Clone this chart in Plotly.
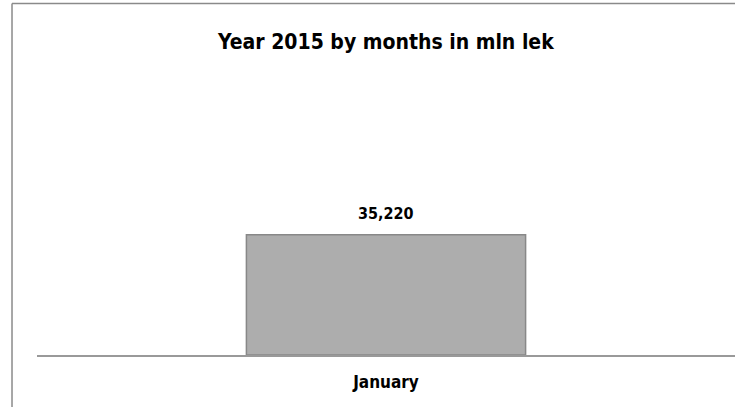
import plotly.graph_objects as go

categories = ["January"]
values = [35220]
title_text = "Year 2015 by months in mln lek"

FONT = "Liberation Sans Narrow, DejaVu Sans Condensed, Open Sans, sans-serif"

fig = go.Figure()
fig.add_trace(go.Bar(
    x=categories, y=values,
    marker=dict(color="#adadad", line=dict(color="#888888", width=1.5)),
    width=0.4,
    hoverinfo="skip",
))
for c, v in zip(categories, values):
    fig.add_annotation(x=c, y=v, text="<b>{:,}</b>".format(v), showarrow=False,
                       yanchor="bottom", yshift=10,
                       font=dict(family=FONT, size=16, color="#000"))

fig.update_layout(
    width=735, height=407,
    margin=dict(l=37, r=0, t=82, b=52),
    paper_bgcolor="white", plot_bgcolor="white",
    showlegend=False,
    title=dict(text="<b>" + title_text + "</b>", x=0.525, xanchor="center",
               y=1 - 42 / 407, yanchor="middle",
               font=dict(family=FONT, size=21, color="#000")),
    xaxis=dict(showline=True, linecolor="#999", linewidth=1.5, showgrid=False,
               ticks="", ticklabelstandoff=11,
               tickfont=dict(family=FONT, size=17, color="#000"),
               tickprefix="<b>", ticksuffix="</b>"),
    yaxis=dict(range=[0, 80000], visible=False, showgrid=False),
    shapes=[
        dict(type="line", xref="paper", yref="paper", x0=-0.0358, x1=1.01,
             y0=1.2876, y1=1.2876, line=dict(color="#8a8a8a", width=1.5)),
        dict(type="line", xref="paper", yref="paper", x0=-0.0358, x1=-0.0358,
             y0=1.2876, y1=-0.2, line=dict(color="#8a8a8a", width=1.5)),
    ],
)
fig.write_html("out.html", config={"displayModeBar": False},
               post_script="document.body.style.margin='0';document.body.style.overflow='hidden';")
